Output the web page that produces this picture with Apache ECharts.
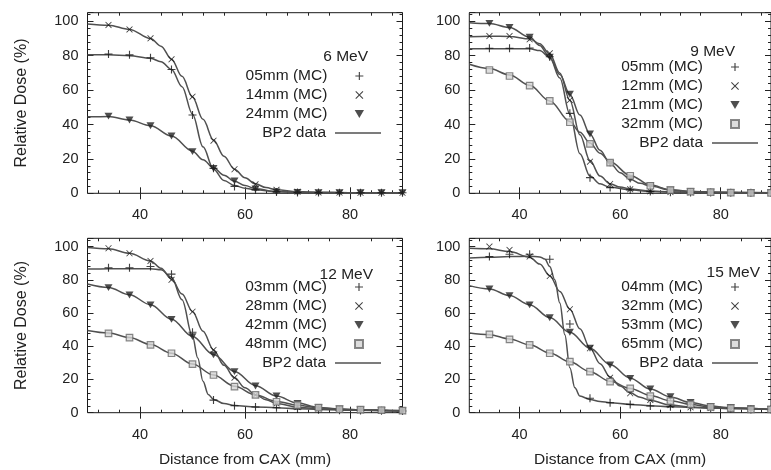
<!DOCTYPE html>
<html>
<head>
<meta charset="utf-8">
<script src="https://cdn.jsdelivr.net/npm/echarts@6/dist/echarts.min.js"></script>
<style>
html,body{margin:0;padding:0;background:#fff}
#main{width:771px;height:470px}
</style>
</head>
<body>
<div id="main"></div>
<script>
// MC sample positions (mm from CAX), shared by all panels
var mcX = [34,38,42,46,50,54,58,62,66,70,74,78,82,86,90];
var xMajor = [40,60,80];
var xMinor = [32,36,44,48,52,56,64,68,72,76,84,88];

// 6 MeV
var mc6_05 = [81,80.5,78.8,72,45.5,14.5,4,2,0.8,0.5,0.4,0.3,0.3,0.3,0.3];
var mc6_14 = [97.9,95.3,90.1,77.9,56.2,30.6,14,5.2,2,0.9,0.5,0.4,0.3,0.3,0.3];
var mc6_24 = [44.9,42.6,39.3,33.3,24.2,14.5,7.2,2.5,0.8,0.5,0.4,0.3,0.3,0.3,0.3];
var bp6_05 = [[30,80.5],[34,80.5],[38,80],[42,78.5],[44,76.5],[46,72],[48,62],[50,46],[52,27],[54,14],[56,7.5],[58,4.5],[60,3],[62,2],[66,1],[70,0.5],[80,0.3],[90,0.3]];
var bp6_14 = [[30,98.5],[34,97.7],[38,95.3],[42,90],[44,85.5],[46,78],[48,68],[50,56],[52,43],[54,31],[56,21.5],[58,14],[60,9],[62,5.5],[64,3.3],[66,2],[70,1],[74,0.5],[80,0.3],[90,0.3]];
var bp6_24 = [[30,44.5],[34,44.6],[38,42.6],[42,39.3],[46,33.3],[50,24.5],[52,19.5],[54,14.8],[56,10.5],[58,7],[60,4.5],[62,2.7],[66,1],[70,0.5],[80,0.3],[90,0.3]];

// 9 MeV
var mc9_05 = [84.3,84.3,84.5,79.4,46.5,9.1,3.3,2,1,0.6,0.5,0.4,0.3,0.3,0.3];
var mc9_12 = [91.4,91.4,89.5,81.4,54.2,18.4,5.4,2.3,1.2,0.7,0.5,0.4,0.3,0.3,0.3];
var mc9_21 = [98.8,96.5,90.7,79.1,57.6,34.5,17.4,8.1,4.4,1.9,1,0.6,0.4,0.3,0.3];
var mc9_32 = [71.7,68.2,62.6,53.7,41.3,28.7,17.8,10.2,4.4,1.9,1,0.7,0.4,0.3,0.3];
var bp9_05 = [[30,84],[34,84],[38,84],[42,84],[44,83],[46,79],[48,67],[50,46],[52,23],[54,10],[56,5.5],[58,3.5],[62,2],[66,1.1],[70,0.7],[80,0.4],[90,0.3]];
var bp9_12 = [[30,91],[34,91.3],[38,91.2],[42,89.8],[44,87],[46,81],[48,70],[50,54],[52,34],[54,19],[56,10],[58,5.5],[60,3.6],[62,2.5],[66,1.3],[70,0.8],[80,0.4],[90,0.3]];
var bp9_21 = [[30,99.2],[34,98.7],[38,96.4],[42,90.8],[44,86],[46,79],[48,69],[50,57.5],[52,45.5],[54,34.5],[56,25],[58,17.5],[60,12],[62,8.2],[64,5.8],[66,4.2],[70,1.9],[74,1],[80,0.5],[90,0.3]];
var bp9_32 = [[30,75],[34,72.5],[38,68.8],[42,62.8],[46,53.7],[50,41.8],[52,35.5],[54,29.2],[56,23.3],[58,18.3],[62,10.4],[66,4.8],[70,2.1],[74,1.1],[80,0.6],[90,0.3]];

// 12 MeV
var mc12_03 = [87.3,87.3,88,83.4,48.4,7.6,4.2,3.4,3,2.2,1.8,1.5,1.3,1.2,1];
var mc12_28 = [99,96,91.4,80,60.8,37.8,21.1,10.7,5.6,3.4,2.5,2,1.5,1.3,1];
var mc12_42 = [75.3,70.9,64.9,56.2,45.8,34.8,24.7,16.1,10.1,5.6,3,2.2,1.7,1.3,1];
var mc12_48 = [47.8,45.2,40.8,35.8,29.2,22.7,15.7,10.7,6.6,4.6,3,2.2,1.8,1.6,1.3];
var bp12_03 = [[30,86.5],[34,86.6],[38,86.6],[42,86.6],[44,86],[46,81.5],[48,68],[50,46],[51,33],[52,19],[53,11],[54,8],[56,5.5],[58,4.4],[62,3.5],[66,3],[70,2.4],[74,2],[82,1.4],[90,1]];
var bp12_28 = [[30,99.5],[34,98.7],[38,96],[42,91.4],[44,87],[46,80.5],[48,71.5],[50,61],[52,49],[54,37.8],[56,28.5],[58,21],[60,15],[62,10.8],[64,7.8],[66,5.6],[70,3.3],[74,2.4],[82,1.5],[90,1]];
var bp12_42 = [[30,77.5],[34,75.4],[38,71],[42,65],[46,56.3],[50,45.9],[54,35],[58,24.8],[62,16.3],[66,10],[70,5.8],[74,3.2],[78,2.2],[82,1.7],[90,1]];
var bp12_48 = [[30,49.5],[34,48],[38,45.3],[42,41],[46,35.8],[50,29.3],[54,22.7],[58,15.9],[62,10.7],[66,6.8],[70,4.5],[74,3],[78,2.2],[82,1.8],[90,1.3]];

// 15 MeV
var mc15_04 = [94,95.4,95.4,92.4,53.4,8.7,6,5,4,3.6,3.2,2.8,2.6,2,2];
var mc15_32 = [100,98,94,82.3,62.3,38.8,21.1,11.7,7.7,4.6,3.3,2.8,2.5,2.2,2];
var mc15_53 = [74.5,70.5,64.9,57.2,48.4,38.8,28.7,20.7,14.3,9.6,6.2,3.8,3.2,2.4,2];
var mc15_65 = [47.2,44.2,40.8,35.8,30.7,24.7,18.7,14.7,10,7,5,3.5,2.8,2,2];
var bp15_04 = [[30,93.2],[34,93.6],[38,94],[42,94.2],[44,93.8],[45,92.5],[46,88],[47,80],[48,66],[49,47],[50,27],[51,15],[52,10],[54,8],[56,6.8],[58,6],[62,5],[66,4.2],[70,3.6],[74,3.2],[78,2.8],[82,2.5],[90,2]];
var bp15_32 = [[30,99],[34,98.7],[38,97],[42,93.6],[44,89.5],[46,82.5],[48,73],[50,62.3],[52,50.5],[54,39],[56,29.5],[58,21.5],[60,16],[62,12],[64,9.3],[66,7.3],[70,4.6],[74,3.4],[78,2.8],[82,2.5],[90,2]];
var bp15_53 = [[30,76.5],[34,74.5],[38,70.5],[42,65],[46,57.3],[50,48.4],[54,38.8],[58,29],[62,20.8],[66,14.3],[70,9.5],[74,6.1],[78,4],[82,3],[90,2]];
var bp15_65 = [[30,48],[34,47],[38,44.4],[42,40.9],[46,36],[50,30.6],[54,24.7],[58,18.9],[62,14.6],[66,10.4],[70,7.2],[74,5],[78,3.5],[82,2.8],[90,2]];

var energies = ["6 MeV","9 MeV","12 MeV","15 MeV"];
var depthNames = [
  ["05mm (MC)","14mm (MC)","24mm (MC)"],
  ["05mm (MC)","12mm (MC)","21mm (MC)","32mm (MC)"],
  ["03mm (MC)","28mm (MC)","42mm (MC)","48mm (MC)"],
  ["04mm (MC)","32mm (MC)","53mm (MC)","65mm (MC)"]
];
var mcSets = [[mc6_05,mc6_14,mc6_24],[mc9_05,mc9_12,mc9_21,mc9_32],[mc12_03,mc12_28,mc12_42,mc12_48],[mc15_04,mc15_32,mc15_53,mc15_65]];
var bpSets = [[bp6_05,bp6_14,bp6_24],[bp9_05,bp9_12,bp9_21,bp9_32],[bp12_03,bp12_28,bp12_42,bp12_48],[bp15_04,bp15_32,bp15_53,bp15_65]];
var bpName = "BP2 data";

var FONT = "'Liberation Sans', Arial, Helvetica, sans-serif";
var INK = "#222";
var LINE = "#505050";
var MARKS = [
  {symbol:"path://M4.3,0H5.7V4.3H10V5.7H5.7V10H4.3V5.7H0V4.3H4.3Z", size:8, style:{color:"#111"}},
  {symbol:"path://M0.9,0L5,4.1L9.1,0L10,0.9L5.9,5L10,9.1L9.1,10L5,5.9L0.9,10L0,9.1L4.1,5L0,0.9Z", size:6.5, style:{color:"#111"}},
  {symbol:"path://M0,0H10L5,8.6Z", size:8, style:{color:"#222"}},
  {symbol:"path://M0,0H10V10H0Z", size:6.5, style:{color:"#d4d4d4", borderColor:"#6a6a6a", borderWidth:1.2}}
];
// legend "right" values place the right edge of the widest marker icon
var LAYOUT = [
  {grid:{left:87.5,top:12.7,width:315,height:180.6}, title:{right:403,top:49}, leg:{right:407,top:68}, bp:{right:390,top:125}},
  {grid:{left:469.3,top:12.7,width:309,height:180.6}, title:{right:36,top:44}, leg:{right:31,top:59}, bp:{right:13,top:135}},
  {grid:{left:87.5,top:238.3,width:315,height:174.4}, title:{right:398,top:267}, leg:{right:407,top:279}, bp:{right:390,top:355}},
  {grid:{left:469.3,top:238.3,width:309,height:174.4}, title:{right:11,top:265}, leg:{right:31,top:279}, bp:{right:13,top:355}}
];

function tag(i, name){ return energies[i] + "|" + name; }
function untag(name){ return name.split("|")[1]; }

var grids = [], xAxes = [], yAxes = [], series = [], legends = [], titles = [];
var tickLine = {color:INK, width:1};

energies.forEach(function(en, i){
  var L = LAYOUT[i];
  grids.push({left:L.grid.left, top:L.grid.top, width:L.grid.width, height:L.grid.height,
    show:true, borderColor:"#1a1a1a", borderWidth:1, backgroundColor:"transparent"});
  var bottomRow = i >= 2, leftCol = (i % 2) === 0;
  // x: 0 bottom major+labels, 1 top major, 2 bottom minor, 3 top minor
  [0,1,2,3].forEach(function(k){
    var minor = k >= 2, top = k % 2 === 1;
    xAxes.push({
      gridIndex:i, type:"value", position:top ? "top" : "bottom", min:30, max:90,
      axisLine:{show:false},
      axisTick:{show:true, inside:true, length:minor ? 3 : 6, lineStyle:tickLine,
        customValues:minor ? xMinor : xMajor},
      splitLine:{show:false},
      axisLabel:{show:k === 0, margin:14.5, customValues:xMajor, color:INK, fontSize:14.5, fontFamily:FONT},
      name:(k === 0 && bottomRow) ? "Distance from CAX (mm)" : "",
      nameLocation:"middle", nameGap:39.5,
      nameTextStyle:{color:INK, fontSize:15.5, fontFamily:FONT}
    });
  });
  [0,1].forEach(function(k){
    yAxes.push({
      gridIndex:i, type:"value", position:k ? "right" : "left", min:0, max:105, interval:20,
      axisLine:{show:false},
      axisTick:{show:true, inside:true, length:6, lineStyle:tickLine},
      minorTick:{show:true, splitNumber:5, length:3, lineStyle:tickLine},
      splitLine:{show:false}, minorSplitLine:{show:false},
      axisLabel:{show:!k, margin:9, showMaxLabel:false, color:INK, fontSize:14.5, fontFamily:FONT},
      name:(!k && leftCol) ? "Relative Dose (%)" : "",
      nameLocation:"middle", nameGap:58,
      nameTextStyle:{color:INK, fontSize:16, fontFamily:FONT}
    });
  });
  // BP2 curves
  bpSets[i].forEach(function(pts){
    series.push({type:"line", name:tag(i, bpName), xAxisIndex:4*i, yAxisIndex:2*i,
      data:pts, smooth:0.35, smoothMonotone:"x", symbol:"none", z:2,
      itemStyle:{color:LINE}, lineStyle:{color:LINE, width:1.5}});
  });
  // MC markers
  mcSets[i].forEach(function(vals, j){
    var m = MARKS[j];
    series.push({type:"scatter", name:tag(i, depthNames[i][j]), xAxisIndex:4*i, yAxisIndex:2*i,
      data:vals.map(function(v, n){ return [mcX[n], v]; }),
      symbol:m.symbol, symbolSize:m.size, symbolKeepAspect:true, itemStyle:m.style, clip:false, z:3});
  });
  legends.push({orient:"vertical", align:"right", right:L.leg.right, top:L.leg.top, padding:0,
    itemWidth:54, itemHeight:8, itemGap:3, symbolKeepAspect:true, selectedMode:false,
    data:depthNames[i].map(function(n){ return tag(i, n); }),
    formatter:untag, textStyle:{color:INK, fontSize:15.5, lineHeight:16, fontFamily:FONT}});
  legends.push({orient:"vertical", align:"right", right:L.bp.right, top:L.bp.top, padding:0,
    itemWidth:46, itemHeight:1.5, itemGap:3, symbolKeepAspect:false, selectedMode:false,
    data:[{name:tag(i, bpName), icon:"path://M0,0H46V1.5H0Z"}], formatter:untag,
    textStyle:{color:INK, fontSize:15.5, lineHeight:16, fontFamily:FONT, padding:[0,4,0,0]}});
  titles.push({text:en, right:L.title.right, top:L.title.top, padding:0,
    textStyle:{color:INK, fontSize:15.5, lineHeight:16, fontWeight:"normal", fontFamily:FONT}});
});

var chart = echarts.init(document.getElementById("main"), null, {renderer:"canvas"});
chart.setOption({
  animation:false,
  backgroundColor:"#fff",
  title:titles,
  legend:legends,
  grid:grids,
  xAxis:xAxes,
  yAxis:yAxes,
  series:series
});
</script>
</body>
</html>
